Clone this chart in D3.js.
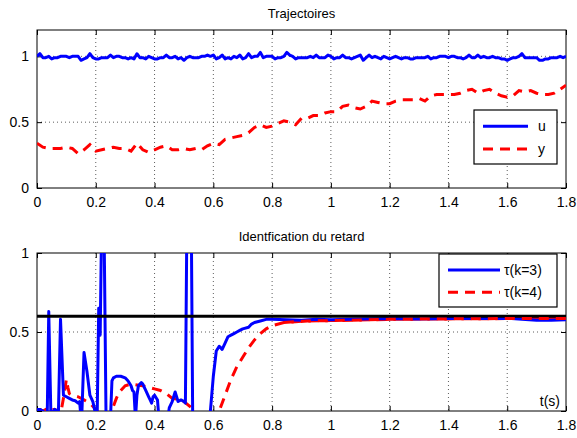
<!DOCTYPE html>
<html><head><meta charset="utf-8">
<script src="https://cdn.jsdelivr.net/npm/d3@7"></script>
<style>
body{margin:0;background:#fff;}
text{font-family:"Liberation Sans",Arial,sans-serif;}
</style></head>
<body><svg id="c" width="577" height="438"></svg>
<script>
// ---- data ----
const xTicks = [0,0.2,0.4,0.6,0.8,1,1.2,1.4,1.6,1.8];
const xTickLabels = ["0","0.2","0.4","0.6","0.8","1","1.2","1.4","1.6","1.8"];
const topYTicks = [0,0.5,1];
const topYTickLabels = ["0","0.5","1"];
const botYTicks = [0,0.5,1];
const botYTickLabels = ["0","0.5","1"];
const titles = ["Trajectoires","Identfication du retard"];
const topLegend = ["u","y"];
const botLegend = ["\u03c4(k=3)","\u03c4(k=4)"];
const tauRef = 0.6;

// u sampled every 0.01 s
const uValues = [
1.00,1.02,0.99,0.99,1.00,0.98,0.99,0.99,1.00,1.00,
1.00,0.99,1.00,1.00,1.00,0.97,0.98,0.99,1.02,0.99,
0.98,0.98,0.99,0.99,0.99,1.01,0.99,1.00,1.00,0.99,
0.99,0.98,0.99,0.98,1.02,0.99,0.99,0.98,1.00,0.99,
0.98,0.98,0.99,0.99,1.01,0.99,0.99,1.00,0.98,0.99,
0.97,0.99,1.00,0.99,0.99,0.99,1.00,1.00,1.01,1.00,
1.01,0.98,0.99,1.01,0.98,0.99,0.98,1.00,0.99,1.01,
0.98,0.99,1.02,0.99,1.00,1.00,1.03,0.99,1.00,1.00,
1.00,0.98,0.99,0.99,1.00,1.03,1.01,1.00,0.98,0.99,
0.99,0.99,0.99,1.00,0.99,1.01,0.99,0.99,0.99,1.01,
1.00,0.98,0.99,0.99,1.01,0.99,0.99,0.98,0.99,1.00,
1.01,0.97,0.99,1.01,0.99,1.00,0.99,0.98,1.00,0.99,
0.98,0.99,1.00,0.99,0.98,0.99,0.99,0.98,0.98,0.99,
0.99,0.99,0.99,1.00,0.98,0.99,0.99,1.00,1.00,1.00,
0.99,1.00,1.00,0.99,0.99,0.98,0.99,1.01,0.99,0.99,
1.01,0.99,1.00,0.99,0.99,1.00,0.99,0.99,0.98,0.98,
0.97,0.98,0.99,0.99,1.00,1.02,0.99,0.99,0.99,0.99,
0.99,0.97,0.97,0.98,0.98,0.99,0.99,0.99,1.00,0.99,
1.00];
// y sampled every 0.02 s
const yValues = [
0.34,0.31,0.30,0.30,0.30,0.31,0.30,0.26,0.29,0.33,
0.28,0.29,0.30,0.31,0.30,0.30,0.28,0.34,0.29,0.27,
0.29,0.31,0.32,0.29,0.29,0.30,0.29,0.30,0.29,0.32,
0.34,0.33,0.37,0.38,0.39,0.40,0.42,0.46,0.48,0.46,
0.47,0.49,0.51,0.50,0.48,0.53,0.53,0.55,0.55,0.57,
0.58,0.58,0.62,0.63,0.61,0.60,0.62,0.66,0.65,0.64,
0.64,0.66,0.67,0.67,0.67,0.68,0.66,0.70,0.71,0.71,
0.71,0.71,0.72,0.74,0.75,0.72,0.74,0.75,0.72,0.70,
0.69,0.70,0.74,0.73,0.74,0.72,0.71,0.71,0.72,0.75,
0.78];

const tau3T = [0,0.01,0.02,0.03,0.035,0.04,0.047,0.05,0.06,0.07,0.073,0.08,0.09,0.1,0.11,0.12,0.13,0.14,0.145,0.15,0.153,0.16,0.17,0.18,0.19,0.197,0.2,0.205,0.21,0.215,0.22,0.228,0.235,0.25,0.255,0.26,0.27,0.285,0.3,0.31,0.32,0.325,0.33,0.335,0.34,0.345,0.355,0.36,0.37,0.38,0.385,0.39,0.395,0.4,0.41,0.415,0.445,0.45,0.46,0.47,0.48,0.49,0.5,0.505,0.51,0.525,0.53,0.585,0.59,0.6,0.61,0.62,0.63,0.64,0.65,0.66,0.67,0.68,0.69,0.7,0.72,0.73,0.74,0.76,0.78,0.8,0.85,0.9,0.95,1.0,1.1,1.2,1.3,1.4,1.5,1.6,1.65,1.7,1.75,1.8];
const tau3V = [0.01,0.01,0.0,-0.02,0.0,0.63,0.0,-0.02,0.01,0.0,0.0,0.58,0.1,0.09,0.08,0.07,0.065,0.05,0.06,-0.05,0.0,0.37,0.25,0.1,0.06,0.0,-0.05,0.0,0.65,0.48,1.2,1.2,-0.05,-0.05,0.19,0.21,0.22,0.22,0.21,0.19,0.16,0.13,0.12,-0.05,0.1,0.16,0.18,0.17,0.13,0.09,0.07,0.05,0.09,0.1,0.07,-0.05,-0.05,0.02,0.06,0.12,0.06,0.07,0.06,0.05,1.2,1.2,-0.1,-0.1,0.0,0.22,0.38,0.41,0.39,0.43,0.47,0.48,0.49,0.5,0.51,0.52,0.53,0.55,0.56,0.57,0.58,0.58,0.578,0.575,0.58,0.578,0.582,0.585,0.583,0.585,0.585,0.587,0.58,0.575,0.575,0.578];
const tau4T = [0,0.01,0.02,0.03,0.04,0.05,0.06,0.07,0.08,0.09,0.1,0.105,0.11,0.12,0.14,0.16,0.18,0.2,0.22,0.25,0.26,0.27,0.28,0.3,0.32,0.34,0.36,0.38,0.4,0.42,0.44,0.46,0.48,0.5,0.52,0.54,0.56,0.6,0.62,0.64,0.66,0.68,0.7,0.72,0.74,0.76,0.78,0.8,0.84,0.88,0.92,1.0,1.2,1.4,1.6,1.8];
const tau4V = [0.01,0.01,0.0,0.01,0.0,0.01,0.01,0.0,-0.02,0.08,0.2,0.15,0.11,0.1,0.09,0.07,0.05,0.01,-0.03,-0.03,0.03,0.08,0.12,0.16,0.17,0.165,0.16,0.15,0.14,0.13,0.11,0.08,0.075,0.06,0.03,-0.01,-0.05,-0.05,0.0,0.1,0.2,0.28,0.34,0.4,0.45,0.49,0.52,0.54,0.56,0.565,0.57,0.572,0.58,0.583,0.585,0.585];

// ---- drawing ----
const svg = d3.select("#c");
const L = 37, R = 566;
const x = d3.scaleLinear().domain([0,1.8]).range([L,R]);
const panels = [
  {top:30, bottom:188, ymax:1.2, yt:topYTicks, ytl:topYTickLabels, title:titles[0], gridY:[0.5,1]},
  {top:253, bottom:411, ymax:1, yt:botYTicks, ytl:botYTickLabels, title:titles[1], gridY:[0.5]}
];
panels.forEach((p,i)=>{
  p.y = d3.scaleLinear().domain([0,p.ymax]).range([p.bottom,p.top]);
  const g = svg.append("g");
  p.g = g;
  svg.append("clipPath").attr("id","clip"+i).append("rect")
    .attr("x",L).attr("y",p.top).attr("width",R-L).attr("height",p.bottom-p.top);
  // grid
  g.selectAll(".gx").data(xTicks.slice(1,-1)).join("line")
    .attr("x1",d=>x(d)).attr("x2",d=>x(d)).attr("y1",p.top).attr("y2",p.bottom)
    .attr("stroke","#333").attr("stroke-width",0.8).attr("stroke-dasharray","1,3");
  g.selectAll(".gy").data(p.gridY.filter(v=>v<p.ymax)).join("line")
    .attr("x1",L).attr("x2",R).attr("y1",d=>p.y(d)).attr("y2",d=>p.y(d))
    .attr("stroke","#333").attr("stroke-width",0.8).attr("stroke-dasharray","1,3");
  // axes
  const ax = d3.axisBottom(x).tickValues(xTicks).tickFormat((d,j)=>xTickLabels[j]).tickSizeInner(-5).tickSizeOuter(0).tickPadding(9);
  const axT = d3.axisTop(x).tickValues(xTicks).tickFormat("").tickSizeInner(-5).tickSizeOuter(0);
  const ay = d3.axisLeft(p.y).tickValues(p.yt).tickFormat((d,j)=>p.ytl[j]).tickSizeInner(-5).tickSizeOuter(0).tickPadding(8);
  const ayR = d3.axisRight(p.y).tickValues(p.yt).tickFormat("").tickSizeInner(-5).tickSizeOuter(0);
  [[ax,"translate(0,"+p.bottom+")"],[axT,"translate(0,"+p.top+")"],[ay,"translate("+L+",0)"],[ayR,"translate("+R+",0)"]].forEach(([a,t])=>{
    const s = g.append("g").attr("transform",t).call(a);
    s.select(".domain").remove();
    s.selectAll("line").attr("stroke","#000");
    s.selectAll("text").attr("font-size",14).attr("fill","#000").attr("font-family","'Liberation Sans',Arial,sans-serif");
  });
  g.append("rect").attr("x",L).attr("y",p.top).attr("width",R-L).attr("height",p.bottom-p.top)
    .attr("fill","none").attr("stroke","#000").attr("stroke-width",1);
  g.append("text").attr("x",(L+R)/2).attr("y",p.top-12).attr("text-anchor","middle")
    .attr("font-size",13).text(p.title);
});

const P0 = panels[0], P1 = panels[1];
const lineTop = d3.line().x(d=>x(d[0])).y(d=>P0.y(d[1]));
const lineBot = d3.line().x(d=>x(d[0])).y(d=>P1.y(d[1]));
const uData = uValues.map((v,i)=>[i*0.01,v]);
const yData = yValues.map((v,i)=>[i*0.02,v]);
const t3 = tau3T.map((t,i)=>[t,tau3V[i]]);
const t4 = tau4T.map((t,i)=>[t,tau4V[i]]);

const c0 = svg.append("g").attr("clip-path","url(#clip0)");
c0.append("path").datum(uData).attr("d",lineTop).attr("fill","none").attr("stroke","#0000ff").attr("stroke-width",3).attr("stroke-linejoin","round");
c0.append("path").datum(yData).attr("d",lineTop).attr("fill","none").attr("stroke","#ff0000").attr("stroke-width",3).attr("stroke-dasharray","10,7");

const c1 = svg.append("g").attr("clip-path","url(#clip1)");
c1.append("path").datum(t4).attr("d",lineBot).attr("fill","none").attr("stroke","#ff0000").attr("stroke-width",3).attr("stroke-dasharray","10,7");
c1.append("path").datum(t3).attr("d",lineBot).attr("fill","none").attr("stroke","#0000ff").attr("stroke-width",3).attr("stroke-linejoin","round");
c1.append("line").attr("x1",L).attr("x2",R).attr("y1",P1.y(tauRef)).attr("y2",P1.y(tauRef)).attr("stroke","#000").attr("stroke-width",3);
// redraw dashed red over so it sits on top of blue near the end
c1.append("path").datum(t4.filter(d=>d[0]>=0.84)).attr("d",lineBot).attr("fill","none").attr("stroke","#ff0000").attr("stroke-width",3).attr("stroke-dasharray","10,7");

svg.append("text").attr("x",R-6).attr("y",P1.bottom-5).attr("text-anchor","end").attr("font-size",14).text("t(s)");

// legends
function legend(x0,y0,w,h,labels,lx1,lx2,tx){
  const g = svg.append("g");
  g.append("rect").attr("x",x0).attr("y",y0).attr("width",w).attr("height",h).attr("fill","#fff").attr("stroke","#000").attr("stroke-width",1.2);
  const rows = [y0+h*0.3, y0+h*0.72];
  g.append("line").attr("x1",lx1).attr("x2",lx2).attr("y1",rows[0]).attr("y2",rows[0]).attr("stroke","#0000ff").attr("stroke-width",3);
  g.append("line").attr("x1",lx1).attr("x2",lx2).attr("y1",rows[1]).attr("y2",rows[1]).attr("stroke","#ff0000").attr("stroke-width",3).attr("stroke-dasharray","10,7");
  labels.forEach((l,i)=>g.append("text").attr("x",tx).attr("y",rows[i]+5).attr("font-size",14).text(l));
}
legend(474,110,83,54,topLegend,483,528,538);
legend(439,254,118,53,botLegend,448,500,504);
</script></body></html>
